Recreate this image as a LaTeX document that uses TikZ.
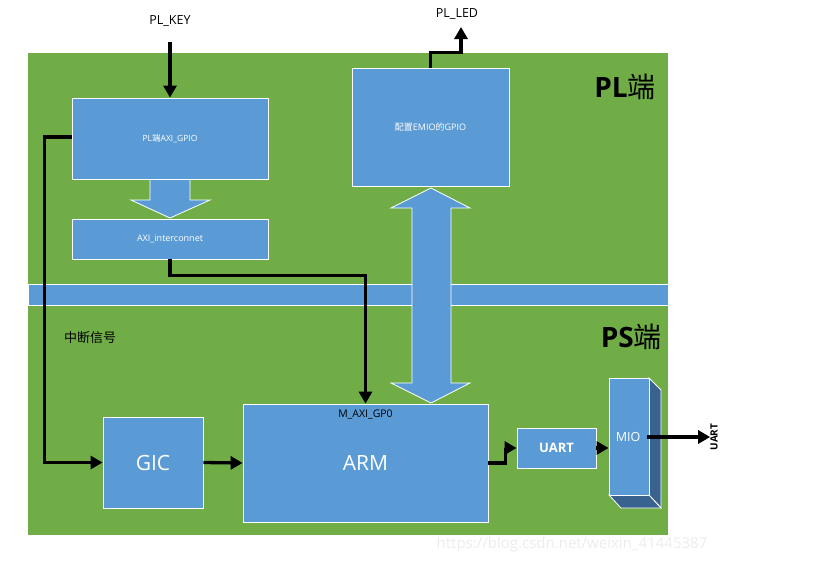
\documentclass[tikz,border=0pt]{standalone}
\usepackage{fontspec}
\setmainfont{Open Sans}
\newfontfamily\cjk{Noto Sans CJK SC}
\usetikzlibrary{arrows.meta}
\definecolor{pgreen}{HTML}{70AD47}
\definecolor{pblue}{HTML}{5B9BD5}
\definecolor{pdark}{HTML}{3A628F}
\begin{document}
\begin{tikzpicture}[x=1pt,y=-1pt,
  box/.style={draw=white,line width=0.8pt,fill=pblue,inner sep=0pt,text=white,align=center},
  wire/.style={draw=black,line width=3.3pt,line cap=butt,line join=miter},
  tip/.style={-{Triangle[length=12pt,width=13pt]}},
  lbl/.style={inner sep=0pt,text=black}]
\useasboundingbox (0,0) rectangle (829,573);
\fill[white] (0,0) rectangle (829,573);
% background
\fill[pgreen] (28,53) rectangle (668,535);
\draw[white,line width=0.6pt] (668,53) -- (668,535);
% band
\draw[box] (28,284) rectangle (668,305);
% double arrow
\draw[box] (431,188) -- (470,208) -- (451,208) -- (451,383) -- (470,383) -- (431,403)
  -- (391,383) -- (412,383) -- (412,208) -- (391,208) -- cycle;
% big down arrow
\draw[box] (150,179) -- (190,179) -- (190,200) -- (210,200) -- (170,218) -- (131,200) -- (150,200) -- cycle;
% boxes
\node[box,minimum width=196pt,minimum height=81pt,font=\fontsize{8.5}{10}\selectfont] (gpio) at (170,138.5) {PL{\cjk 端}AXI\_GPIO};
\node[box,minimum width=196pt,minimum height=40pt,font=\fontsize{9}{10}\selectfont] (axi) at (170,239) {AXI\_interconnet};
\node[box,minimum width=157pt,minimum height=118pt,font=\fontsize{9}{10}\selectfont] (emio) at (430.5,127) {{\cjk 配置}EMIO{\cjk 的}GPIO};
\node[box,minimum width=100pt,minimum height=91pt,font=\fontsize{21}{24}\selectfont] (gic) at (153,462.5) {GIC};
\node[box,minimum width=245pt,minimum height=118pt,font=\fontsize{21}{24}\selectfont] (arm) at (365.5,463) {ARM};
\node[lbl,font=\fontsize{10.5}{12}\selectfont] (gp0) at (365.5,414) {M\_AXI\_GP0};
\node[box,minimum width=79pt,minimum height=40pt,font=\bfseries\fontsize{13}{15}\selectfont] (uart) at (556.5,448) {UART};
% MIO 3D
\draw[draw=white,line width=0.8pt,fill=pdark] (649,378) -- (661,390) -- (661,508) -- (649,495) -- cycle;
\draw[draw=white,line width=0.8pt,fill=pdark] (609,495) -- (649,495) -- (661,508) -- (621,508) -- cycle;
\node[box,minimum width=40pt,minimum height=117pt] (mio) at (629,436.5) {};
\node[lbl,text=white,font=\fontsize{12.5}{14}\selectfont] (miotxt) at (628,437) {MIO};
% texts
\node[lbl,font=\fontsize{12.5}{14}\selectfont] (plkey) at (170,21) {PL\_KEY};
\node[lbl,font=\fontsize{12.5}{14}\selectfont] (plled) at (457,14) {PL\_LED};
\node[lbl,font=\cjk\fontsize{13}{15}\selectfont] (irq) at (90,338) {中断信号};
\node[lbl,anchor=east,font=\fontsize{28}{32}\selectfont] (pltitle) at (656,87) {\textbf{PL}{\cjk 端}};
\node[lbl,anchor=east,font=\fontsize{28}{32}\selectfont] (pstitle) at (662,337) {\textbf{PS}{\cjk 端}};
\node[lbl,rotate=90,font=\bfseries\fontsize{10}{12}\selectfont] (uartout) at (714,437) {UART};
\node[lbl,text=black!7,font=\fontsize{15}{17}\selectfont] (wm) at (572,545) {https://blog.csdn.net/weixin\_41445387};
% connectors
\coordinate (keytop) at (170,42);
\draw[wire,tip] (keytop) -- (gpio.north);
\coordinate (ledtip) at (461,27);
\draw[wire,tip] (emio.north) -- ++(0,-15) -| (ledtip);
\draw[wire,tip] ([yshift=1.5pt]gpio.west) -- ++(-27,0) |- (gic.west);
\draw[wire,tip] (axi.south) -- ++(0,16) -| (arm.north);
\draw[wire,tip] (gic.east) -- (arm.west);
\draw[wire,tip] (arm.east) -- ++(17,0) |- (uart.west);
\draw[wire,tip] (uart.east) -- (uart.east -| mio.west);
\coordinate (mioout) at (647,437);
\draw[wire,tip] (mioout) -- (uartout.north);
\end{tikzpicture}
\end{document}
